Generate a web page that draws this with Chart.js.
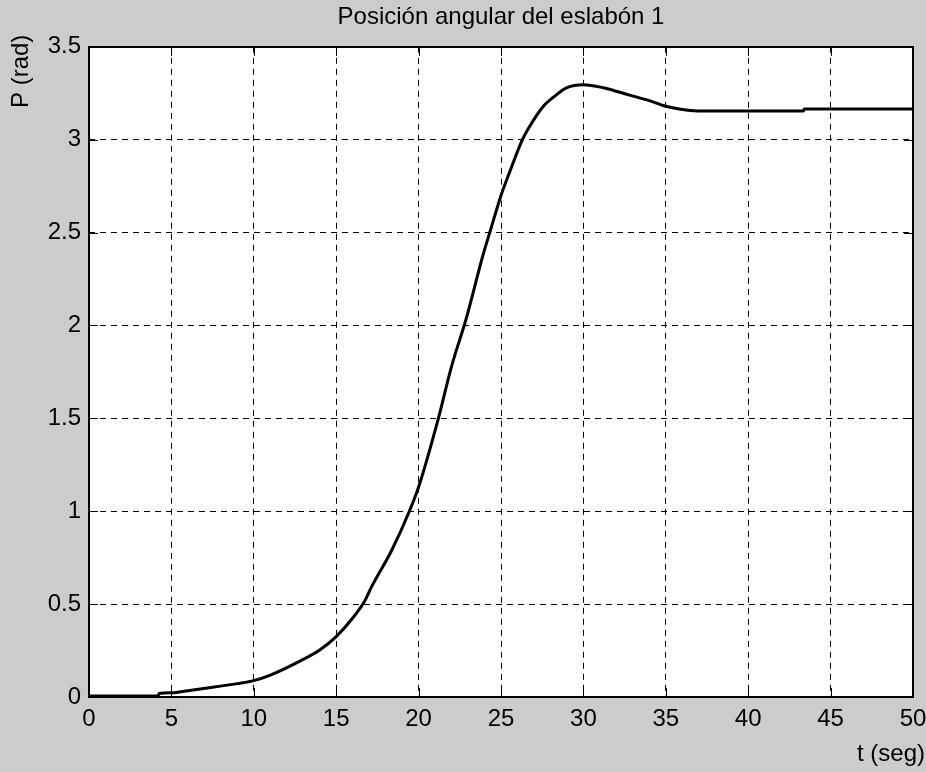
<!DOCTYPE html>
<html>
<head>
<meta charset="utf-8">
<script src="https://cdn.jsdelivr.net/npm/chart.js@4/dist/chart.umd.min.js"></script>
<style>
  html, body { margin: 0; padding: 0; background: #cccccc; }
  #wrap { width: 926px; height: 772px; }
</style>
</head>
<body>
<div id="wrap"><canvas id="c" width="926" height="772"></canvas></div>
<script>
const chartTitle = 'Posición angular del eslabón 1';
const xAxisTitle = 't (seg)';
const yAxisTitle = 'P (rad)';
const xTickLabels = ['0', '5', '10', '15', '20', '25', '30', '35', '40', '45', '50'];
const yTickLabels = ['0', '0.5', '1', '1.5', '2', '2.5', '3', '3.5'];
const timeSec = [0, 2, 4.2, 4.25, 5, 6, 7.5, 9, 10, 11, 12.5, 14, 15, 16, 16.75, 17.15, 18.37, 19.44, 20, 21.2, 22, 22.9, 23.88, 24.42, 25, 25.5, 26.3, 26.66, 27.57, 28.2, 29, 30, 31.2, 32.8, 34, 35, 35.9, 36.9, 40, 43.35, 43.4, 50];
const angleRad = [0.005, 0.005, 0.005, 0.019, 0.023, 0.034, 0.052, 0.072, 0.088, 0.118, 0.18, 0.253, 0.325, 0.425, 0.52, 0.594, 0.79, 1.0, 1.13, 1.5, 1.78, 2.04, 2.37, 2.53, 2.7, 2.82, 3.0, 3.06, 3.18, 3.23, 3.28, 3.296, 3.28, 3.24, 3.21, 3.18, 3.164, 3.155, 3.155, 3.155, 3.165, 3.165];

const FONT = '"Liberation Sans", Arial, sans-serif';

const matlabPlugin = {
  id: 'matlabLook',
  beforeDraw(chart) {
    const ctx = chart.ctx, a = chart.chartArea;
    ctx.save();
    ctx.fillStyle = '#cccccc';
    ctx.fillRect(0, 0, chart.width, chart.height);
    ctx.fillStyle = '#ffffff';
    ctx.fillRect(a.left, a.top, a.right - a.left, a.bottom - a.top);
    ctx.restore();
  },
  afterDraw(chart) {
    const ctx = chart.ctx, a = chart.chartArea;
    const xs = chart.scales.x, ys = chart.scales.y;
    const tl = 9;
    ctx.save();
    ctx.strokeStyle = '#000';
    ctx.lineWidth = 1;
    ctx.setLineDash([]);
    ctx.beginPath();
    xs.ticks.forEach(t => {
      const px = Math.round(xs.getPixelForValue(t.value)) + 0.5;
      ctx.moveTo(px, a.bottom); ctx.lineTo(px, a.bottom - tl);
      ctx.moveTo(px, a.top); ctx.lineTo(px, a.top + tl);
    });
    ys.ticks.forEach(t => {
      const py = Math.round(ys.getPixelForValue(t.value)) + 0.5;
      ctx.moveTo(a.left, py); ctx.lineTo(a.left + tl, py);
      ctx.moveTo(a.right, py); ctx.lineTo(a.right - tl, py);
    });
    ctx.stroke();
    ctx.lineWidth = 2;
    ctx.strokeRect(Math.round(a.left), Math.round(a.top), Math.round(a.right - a.left), Math.round(a.bottom - a.top));
    // axis titles
    ctx.fillStyle = '#000';
    ctx.font = '24px ' + FONT;
    ctx.textAlign = 'right';
    ctx.textBaseline = 'middle';
    ctx.fillText(xAxisTitle, 925, 754);
    ctx.translate(21, 35);
    ctx.rotate(-Math.PI / 2);
    ctx.textAlign = 'left';
    ctx.fillText(yAxisTitle, -73, 0);
    ctx.restore();
  }
};

new Chart(document.getElementById('c'), {
  type: 'scatter',
  data: {
    datasets: [{
      data: timeSec.map((t, i) => ({ x: t, y: angleRad[i] })),
      showLine: true,
      borderColor: '#000',
      backgroundColor: '#000',
      borderWidth: 3,
      pointRadius: 0,
      cubicInterpolationMode: 'monotone',
      clip: false
    }]
  },
  options: {
    responsive: false,
    animation: false,
    devicePixelRatio: 1,
    layout: { padding: { left: 0, right: 0, top: 0, bottom: 0 } },
    plugins: {
      legend: { display: false },
      tooltip: { enabled: false },
      title: {
        display: true,
        fullSize: false,
        text: chartTitle,
        color: '#000',
        font: { family: FONT, size: 24, weight: 'normal', lineHeight: 1.2 },
        padding: { top: 3, bottom: 15 }
      }
    },
    scales: {
      x: {
        type: 'linear',
        min: 0, max: 50,
        afterFit(s) { s.height = 75; s.paddingLeft = 0; s.paddingRight = 13; },
        ticks: {
          stepSize: 5,
          color: '#000',
          padding: 8,
          maxRotation: 0,
          font: { family: FONT, size: 24 },
          callback: (v, i) => xTickLabels[i]
        },
        grid: { color: '#000', lineWidth: 1, drawTicks: false },
        border: { display: false, dash: [6, 5] }
      },
      y: {
        type: 'linear',
        min: 0, max: 3.5,
        afterFit(s) { s.width = 89; },
        ticks: {
          stepSize: 0.5,
          color: '#000',
          padding: 8,
          font: { family: FONT, size: 24 },
          callback: (v, i) => yTickLabels[i]
        },
        grid: { color: '#000', lineWidth: 1, drawTicks: false },
        border: { display: false, dash: [6, 5] }
      }
    }
  },
  plugins: [matlabPlugin]
});
</script>
</body>
</html>
